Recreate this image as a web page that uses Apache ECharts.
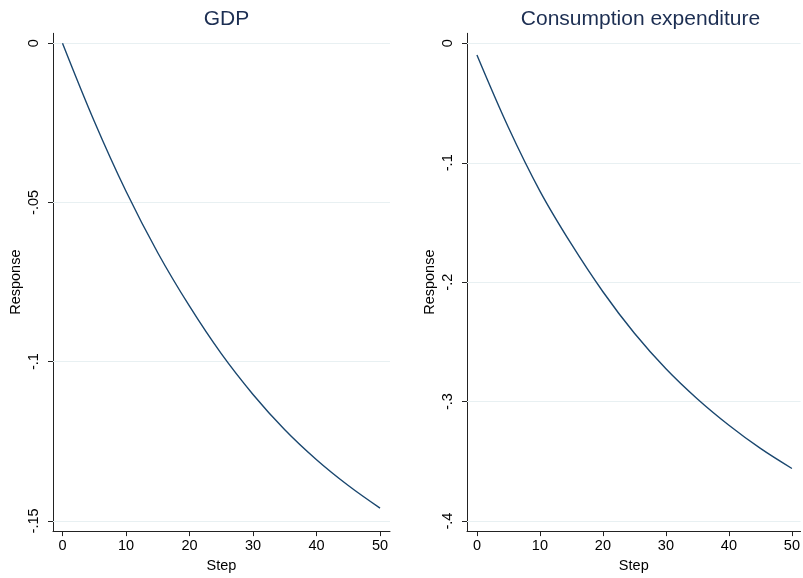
<!DOCTYPE html>
<html>
<head>
<meta charset="utf-8">
<script src="https://cdn.jsdelivr.net/npm/echarts@6/dist/echarts.min.js"></script>
<style>
html,body{margin:0;padding:0;background:#fff;}
#chart{width:803px;height:578px;}
</style>
</head>
<body>
<div id="chart"></div>
<script>
// ---- data ----
const steps = [0, 5, 10, 15, 20, 25, 30, 35, 40, 45, 50];
const gdpResponse = [0, -0.0245, -0.0465, -0.0658, -0.0826, -0.0975, -0.1103, -0.1214, -0.1308, -0.1389, -0.146];
const consResponse = [-0.0098, -0.0705, -0.1237, -0.1682, -0.208, -0.2428, -0.2725, -0.2978, -0.3198, -0.3392, -0.356];
const panelTitles = ['GDP', 'Consumption expenditure'];
const xTickValues = [0, 10, 20, 30, 40, 50];
const xTickLabels = ['0', '10', '20', '30', '40', '50'];
const gdpTickValues = [0, -0.05, -0.1, -0.15];
const gdpTickLabels = ['0', '-.05', '-.1', '-.15'];
const consTickValues = [0, -0.1, -0.2, -0.3, -0.4];
const consTickLabels = ['0', '-.1', '-.2', '-.3', '-.4'];
const xTitle = 'Step';
const yTitle = 'Response';

// ---- styling ----
const FONT = "'Liberation Sans', Arial, sans-serif";
const LINE_COLOR = '#1a476f';
const TITLE_COLOR = '#1c2e52';
const GRID_COLOR = '#e8f0f2';
const AXIS_COLOR = '#222';

function lookup(vals, labels) {
  return function (v) {
    for (let i = 0; i < vals.length; i++) {
      if (Math.abs(vals[i] - v) < 1e-9) return labels[i];
    }
    return '';
  };
}

function xAxisCfg(idx, min, max) {
  return {
    type: 'value', gridIndex: idx, min: min, max: max,
    name: xTitle, nameLocation: 'middle', nameGap: 24,
    nameTextStyle: {fontFamily: FONT, fontSize: 14.5, color: '#000'},
    axisLine: {show: true, onZero: false, lineStyle: {color: AXIS_COLOR, width: 1}},
    axisTick: {show: true, length: 5, customValues: xTickValues, lineStyle: {color: AXIS_COLOR}},
    axisLabel: {show: true, customValues: xTickValues, margin: 7, fontFamily: FONT, fontSize: 14.5, color: '#000',
      formatter: lookup(xTickValues, xTickLabels)},
    splitLine: {show: false}
  };
}

function yAxisCfg(idx, min, max, vals, labels) {
  return {
    type: 'value', gridIndex: idx, min: min, max: max,
    name: yTitle, nameLocation: 'middle', nameGap: 30,
    nameTextStyle: {fontFamily: FONT, fontSize: 14.5, color: '#000'},
    axisLine: {show: true, onZero: false, lineStyle: {color: AXIS_COLOR, width: 1}},
    axisTick: {show: true, length: 5, customValues: vals, lineStyle: {color: AXIS_COLOR}},
    axisLabel: {show: true, customValues: vals, rotate: 90, margin: 12, fontFamily: FONT, fontSize: 14.5, color: '#000',
      formatter: lookup(vals, labels)},
    splitLine: {show: false}
  };
}

function seriesCfg(idx, ys, gridVals) {
  return {
    type: 'line', xAxisIndex: idx, yAxisIndex: idx,
    data: steps.map((s, i) => [s, ys[i]]),
    showSymbol: false, symbol: 'none', smooth: 0.35,
    lineStyle: {color: LINE_COLOR, width: 1.4},
    z: 5,
    markLine: {
      silent: true, symbol: ['none', 'none'], label: {show: false},
      lineStyle: {color: GRID_COLOR, type: 'solid', width: 1},
      emphasis: {disabled: true},
      animation: false,
      z: 1,
      data: gridVals.map(v => ({yAxis: v}))
    }
  };
}

const chart = echarts.init(document.getElementById('chart'), null, {renderer: 'canvas'});
chart.setOption({
  animation: false,
  backgroundColor: '#fff',
  title: [
    {text: panelTitles[0], left: 221.5, top: 4, textAlign: 'center',
      textStyle: {fontFamily: FONT, fontSize: 21, fontWeight: 'normal', color: TITLE_COLOR}},
    {text: panelTitles[1], left: 635.5, top: 4, textAlign: 'center',
      textStyle: {fontFamily: FONT, fontSize: 21, fontWeight: 'normal', color: TITLE_COLOR}}
  ],
  grid: [
    {left: 53, top: 33.3, width: 337, height: 498.4, containLabel: false},
    {left: 467, top: 33.3, width: 336, height: 498.4, containLabel: false}
  ],
  xAxis: [xAxisCfg(0, -1.496, 51.57), xAxisCfg(1, -1.576, 51.37)],
  yAxis: [
    yAxisCfg(0, -0.1532, 0.0031, gdpTickValues, gdpTickLabels),
    yAxisCfg(1, -0.4084, 0.0084, consTickValues, consTickLabels)
  ],
  series: [
    seriesCfg(0, gdpResponse, gdpTickValues),
    seriesCfg(1, consResponse, consTickValues)
  ]
});
</script>
</body>
</html>
